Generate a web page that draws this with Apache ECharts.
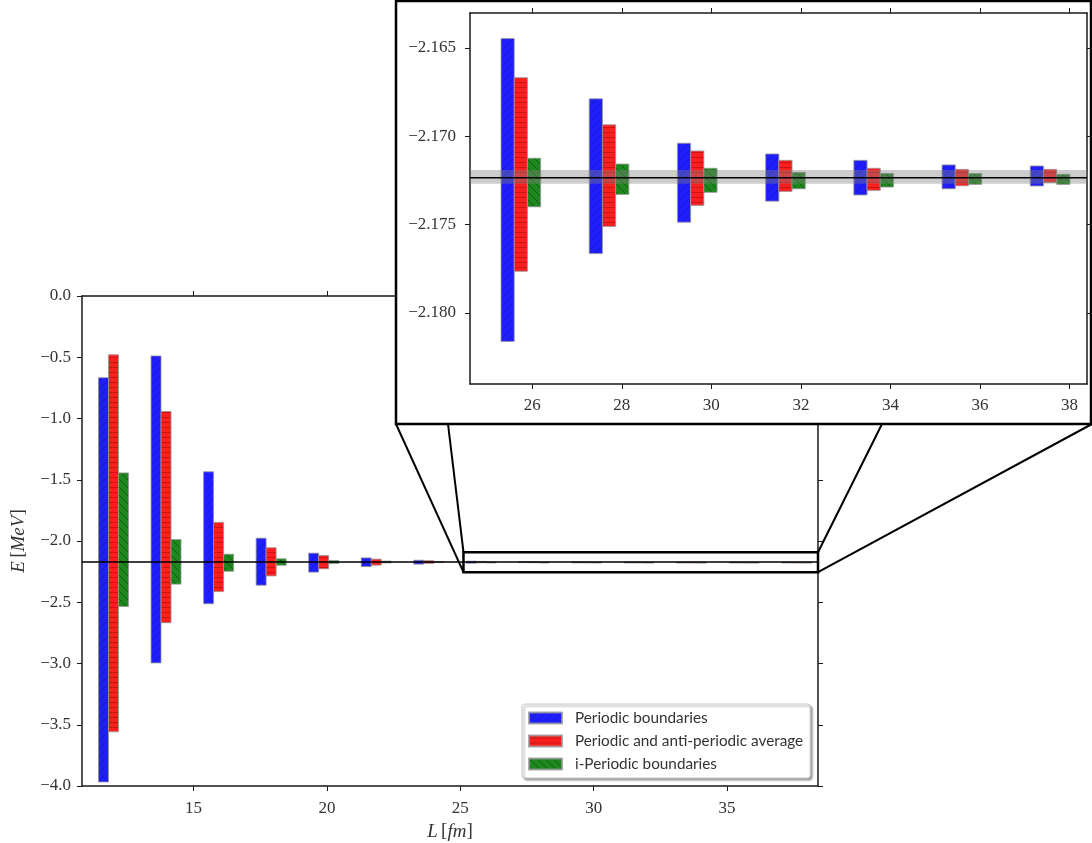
<!DOCTYPE html>
<html>
<head>
<meta charset="utf-8">
<title>Binding energy vs box size</title>
<script src="https://cdn.jsdelivr.net/npm/echarts@6/dist/echarts.min.js"></script>
<style>
  html, body { margin: 0; padding: 0; background: #fff; }
  #chart { width: 1092px; height: 843px; }
</style>
</head>
<body>
<div id="chart"></div>
<script>
// Box sizes L [fm]
const L = [12.00, 13.97, 15.94, 17.91, 19.88, 21.85, 23.82, 25.79, 27.76, 29.73, 31.70, 33.67, 35.64, 37.61];

// Energy ranges [MeV] for each boundary condition (lower / upper edge of each bar)
const periodicLow  = [-3.967, -2.995, -2.512, -2.361, -2.254, -2.209, -2.189, -2.18161, -2.17664, -2.17486, -2.17367, -2.17332, -2.17297, -2.17281];
const periodicHigh = [-0.667, -0.489, -1.435, -1.977, -2.099, -2.138, -2.157, -2.16447, -2.16788, -2.17039, -2.17100, -2.17136, -2.17162, -2.17168];

const averageLow   = [-3.557, -2.667, -2.413, -2.285, -2.227, -2.197, -2.183, -2.17764, -2.17510, -2.17391, -2.17312, -2.17306, -2.17280, -2.17261];
const averageHigh  = [-0.480, -0.943, -1.848, -2.055, -2.119, -2.148, -2.161, -2.16668, -2.16935, -2.17083, -2.17136, -2.17181, -2.17187, -2.17187];

const iPeriodicLow  = [-2.535, -2.352, -2.247, -2.198, -2.184, -2.179, -2.176, -2.17399, -2.17329, -2.17317, -2.17297, -2.17287, -2.17272, -2.17272];
const iPeriodicHigh = [-1.444, -1.988, -2.108, -2.145, -2.160, -2.164, -2.168, -2.17124, -2.17157, -2.17181, -2.17204, -2.17210, -2.17211, -2.17215];

// Infinite-volume energy and its uncertainty band [MeV]
const E0 = -2.17234;
const E0Band = [-2.17268, -2.17191];

// Tick values
const mainXTicks  = [15, 20, 25, 30, 35];
const insetXTicks = [26, 28, 30, 32, 34, 36, 38];
const insetYTicks = [-2.180, -2.175, -2.170, -2.165];

// Region of the main panel shown enlarged in the inset
const zoomBoxX = [25.12, 38.41];
const zoomBoxY = [-2.2543, -2.0913];

const names = ['Periodic boundaries', 'Periodic and anti-periodic average', 'i-Periodic boundaries'];

// ---------- styling helpers ----------
const SERIF = '"Liberation Serif", "DejaVu Serif", serif';
const SANS = 'Lato, "Open Sans", sans-serif';
const TXT = '#333';
const AX = '#1a1a1a';

function hatch(fill, line, kind) {
  const w = 8, h = kind === '-' ? 5 : 8;
  const c = document.createElement('canvas');
  c.width = w; c.height = h;
  const g = c.getContext('2d');
  g.fillStyle = fill;
  g.fillRect(0, 0, w, h);
  g.strokeStyle = line;
  g.lineWidth = 1;
  g.beginPath();
  if (kind === '-') {
    g.moveTo(0, 2.5); g.lineTo(w, 2.5);
  } else if (kind === '/') {
    g.moveTo(-1, h + 1); g.lineTo(w + 1, -1);
    g.moveTo(-1, 1); g.lineTo(1, -1);
    g.moveTo(w - 1, h + 1); g.lineTo(w + 1, h - 1);
  } else {
    g.moveTo(-1, -1); g.lineTo(w + 1, h + 1);
    g.moveTo(w - 1, -1); g.lineTo(w + 1, 1);
    g.moveTo(-1, h - 1); g.lineTo(1, h + 1);
  }
  g.stroke();
  return { image: c, repeat: 'repeat' };
}

const fills = [
  hatch('#1e1eff', 'rgba(20,20,140,0.45)', '/'),
  hatch('#ff1e1e', 'rgba(150,10,10,0.5)', '-'),
  hatch('#1e881e', 'rgba(10,60,10,0.55)', '\\')
];
const EDGE = 'rgba(150,150,150,0.8)';

function rows(low, high) {
  return L.map((x, i) => [x, low[i], high[i]]);
}
const seriesData = [
  rows(periodicLow, periodicHigh),
  rows(averageLow, averageHigh),
  rows(iPeriodicLow, iPeriodicHigh)
];

function barRenderer(fill, offset, width) {
  return function (params, api) {
    const x = api.value(0);
    const top = api.coord([x, api.value(2)]);
    const bot = api.coord([x, api.value(1)]);
    const h = Math.max(bot[1] - top[1], 1);
    return {
      type: 'rect',
      shape: { x: top[0] + offset - width / 2, y: top[1], width: width, height: h },
      style: { fill: fill, stroke: EDGE, lineWidth: 1 }
    };
  };
}

function refRenderer(params, api) {
  const cs = params.coordSys;
  const y = api.coord([L[0], api.value(0)])[1];
  const yLo = api.coord([L[0], api.value(1)])[1];
  const yHi = api.coord([L[0], api.value(2)])[1];
  return {
    type: 'group',
    children: [
      { type: 'rect', shape: { x: cs.x, y: yHi, width: cs.width, height: yLo - yHi },
        style: { fill: 'rgba(128,128,128,0.4)' } },
      { type: 'line', shape: { x1: cs.x, y1: y, x2: cs.x + cs.width, y2: y },
        style: { stroke: '#000', lineWidth: 1.5 } }
    ]
  };
}

function fmt(d) {
  return v => v.toFixed(d).replace('-', '\u2212');
}

const tickStyle = { show: true, length: 5, lineStyle: { color: AX, width: 1 } };
const lineStyle = { show: true, onZero: false, lineStyle: { color: AX, width: 1.5 } };
const labelStyle = { fontFamily: SERIF, fontSize: 17, color: TXT };

function axisPair(kind, grid, min, max, ticks, labelFmt, margin, extra, z) {
  const a = kind === 'x' ? ['bottom', 'top'] : ['left', 'right'];
  const tick = ticks ? Object.assign({}, tickStyle, { customValues: ticks }) : tickStyle;
  const primary = Object.assign({
    type: 'value', gridIndex: grid, position: a[0], min: min, max: max, z: z,
    axisLine: lineStyle, axisTick: tick, splitLine: { show: false },
    axisLabel: Object.assign({ formatter: labelFmt, margin: margin }, labelStyle,
      ticks ? { customValues: ticks } : {})
  }, extra || {});
  const secondary = {
    type: 'value', gridIndex: grid, position: a[1], min: min, max: max, z: z,
    axisLine: lineStyle, axisTick: tick, splitLine: { show: false },
    axisLabel: { show: false }
  };
  if (extra && extra.interval) secondary.interval = extra.interval;
  return [primary, secondary];
}

const nameRich = {
  i: { fontFamily: SERIF, fontStyle: 'italic', fontSize: 19, color: TXT },
  n: { fontFamily: SERIF, fontSize: 19, color: TXT }
};

const xAxes = [].concat(
  axisPair('x', 0, 10.82, 38.41, mainXTicks, v => String(v), 14, {
    name: '{i|L} {n|[}{i|fm}{n|]}', nameLocation: 'middle', nameGap: 36,
    nameTextStyle: { rich: nameRich }
  }, 0),
  axisPair('x', 1, 24.61, 38.39, insetXTicks, v => String(v), 13, null, 10)
);
const yAxes = [].concat(
  axisPair('y', 0, -4, 0, null, fmt(1), 11, {
    interval: 0.5,
    name: '{i|E} {n|[}{i|MeV}{n|]}', nameLocation: 'middle', nameGap: 54, nameRotate: 90,
    nameTextStyle: { rich: nameRich }
  }, 0),
  axisPair('y', 1, -2.18402, -2.16302, insetYTicks, fmt(3), 14, null, 10)
);

const mainBarW = 10, insetBarW = 13.2, insetShift = -2;
const series = [];
names.forEach((nm, k) => {
  series.push({
    type: 'custom', name: nm, xAxisIndex: 0, yAxisIndex: 0, z: 2,
    itemStyle: { color: fills[k], borderColor: EDGE, borderWidth: 1 },
    renderItem: barRenderer(fills[k], (k - 1) * mainBarW, mainBarW),
    encode: { x: 0, y: [1, 2] },
    data: seriesData[k]
  });
});
series.push({
  type: 'custom', name: 'E0 main', xAxisIndex: 0, yAxisIndex: 0, z: 3, silent: true,
  renderItem: refRenderer, encode: { y: 0 }, data: [[E0, E0Band[0], E0Band[1]]]
});
names.forEach((nm, k) => {
  series.push({
    type: 'custom', name: nm, xAxisIndex: 2, yAxisIndex: 2, z: 12, clip: true,
    itemStyle: { color: fills[k], borderColor: EDGE, borderWidth: 1 },
    renderItem: barRenderer(fills[k], (k - 1) * insetBarW + insetShift, insetBarW),
    encode: { x: 0, y: [1, 2] },
    data: seriesData[k]
  });
});
series.push({
  type: 'custom', name: 'E0 inset', xAxisIndex: 2, yAxisIndex: 2, z: 13, silent: true,
  renderItem: refRenderer, encode: { y: 0 }, data: [[E0, E0Band[0], E0Band[1]]]
});

const chart = echarts.init(document.getElementById('chart'), null, { renderer: 'canvas' });
chart.setOption({
  animation: false,
  backgroundColor: '#fff',
  grid: [
    { left: 82, top: 296, width: 736, height: 490, outerBoundsMode: 'none', containLabel: false },
    { left: 470, top: 13, width: 617, height: 371, outerBoundsMode: 'none', containLabel: false }
  ],
  xAxis: xAxes,
  yAxis: yAxes,
  legend: {
    data: names,
    orient: 'vertical',
    left: 522, top: 704,
    padding: [6, 7, 6, 6],
    itemWidth: 33, itemHeight: 11, itemGap: 7,
    icon: 'rect',
    backgroundColor: '#fff',
    borderColor: '#c8c8c8', borderWidth: 1, borderRadius: 3,
    shadowColor: 'rgba(0,0,0,0.35)', shadowBlur: 2, shadowOffsetX: 2, shadowOffsetY: 2,
    textStyle: { fontFamily: SANS, fontSize: 15.3, color: TXT, lineHeight: 16, padding: [0, 0, 0, 8] },
    selectedMode: false
  },
  series: series
});

// Inset frame, zoom rectangle and connector lines
const frame = { x0: 396, x1: 1091, y0: 1, y1: 424 };
const p0 = chart.convertToPixel({ gridIndex: 0 }, [zoomBoxX[0], zoomBoxY[1]]);
const p1 = chart.convertToPixel({ gridIndex: 0 }, [zoomBoxX[1], zoomBoxY[0]]);
const anchors = [396, 448, 882, 1092];
const ln = (x1, y1, x2, y2) => ({
  type: 'line', z: 6, silent: true,
  shape: { x1: x1, y1: y1, x2: x2, y2: y2 },
  style: { stroke: '#000', lineWidth: 2 }
});
chart.setOption({
  graphic: [
    { type: 'rect', z: 5, silent: true,
      shape: { x: frame.x0, y: frame.y0, width: frame.x1 - frame.x0, height: frame.y1 - frame.y0 },
      style: { fill: '#fff', stroke: '#000', lineWidth: 2.5 } },
    { type: 'rect', z: 6, silent: true,
      shape: { x: p0[0], y: p0[1], width: p1[0] - p0[0], height: p1[1] - p0[1] },
      style: { fill: 'none', stroke: '#000', lineWidth: 2.5 } },
    ln(anchors[0], frame.y1, p0[0], p1[1]),
    ln(anchors[1], frame.y1, p0[0], p0[1]),
    ln(anchors[2], frame.y1, p1[0], p0[1]),
    ln(anchors[3], frame.y1, p1[0], p1[1])
  ]
});
</script>
</body>
</html>
